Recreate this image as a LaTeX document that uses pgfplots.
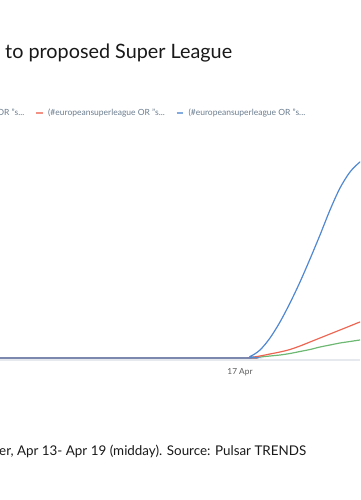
\documentclass[border=0pt]{standalone}
\usepackage{pgfplots}
\pgfplotsset{compat=1.18}
\usepackage{fontspec}
\setmainfont{Lato}
\definecolor{cblue}{HTML}{5088D2}
\definecolor{cred}{HTML}{EE6450}
\definecolor{cgreen}{HTML}{6DB872}
\definecolor{legtext}{HTML}{6A7C8E}
\definecolor{axgrey}{HTML}{E6EAEE}
\begin{document}
\begin{tikzpicture}[x=1pt,y=1pt]
\useasboundingbox (0,0) rectangle (360,500);
\clip (0,0) rectangle (360,500);
\node[anchor=base west, inner sep=0pt, font=\fontsize{19.8}{23}\selectfont, text=black!90] at (5,441) {to proposed Super League};
\node[anchor=base west, inner sep=0pt, font=\fontsize{13.4}{16}\selectfont, text=black!90] at (-1,44) {er, Apr 13- Apr 19 (midday). Source: Pulsar TRENDS};
\begin{axis}[
  at={(0pt,140pt)}, anchor=south west,
  scale only axis, width=360pt, height=230pt,
  xmin=-24, xmax=12, ymin=-2, ymax=228,
  axis x line*=bottom, axis y line=none,
  x axis line style={draw=axgrey, line width=1.6pt},
  xtick={0}, xticklabels={17 Apr},
  major tick length=0pt,
  xticklabel style={font=\fontsize{8.3}{9}\selectfont, text=black!65, yshift=-5pt},
  ytick=\empty,
  clip=true,
  legend columns=3,
  legend style={draw=none, fill=none, at={(-0.301,1.074)}, anchor=west,
    font=\fontsize{8.5}{10}\selectfont, text=legtext,
    /tikz/every even column/.append style={column sep=9pt}},
  legend image code/.code={\draw[#1, line width=1.5pt, opacity=0.7] (0pt,0pt) -- (6.5pt,0pt); \path (9.5pt,0pt);},
]
\addplot[cgreen, line width=1.2pt, smooth, tension=0.5] coordinates {
(-24,0) (0,0) (1,0.3) (2,1) (3,2) (4,3) (5,4.5) (6,6.5) (7,8.5) (8,11) (9,13) (10,15) (11,16.5) (12,18) (13,19)};
\addlegendentry{(\#europeansuperleague OR "s...}
\addplot[cred, line width=1.2pt, smooth, tension=0.5] coordinates {
(-24,0) (0,0) (1,0.5) (2,2) (3,4) (4,6) (5,8.5) (6,12) (7,16) (8,20) (9,24) (10,28) (11,32) (12,36) (13,39)};
\addlegendentry{(\#europeansuperleague OR "s...}
\addplot[cblue, line width=1.2pt, smooth, tension=0.5] coordinates {
(-24,0) (0,0) (1,1.5) (2,8) (3,20) (4,36) (5,55) (6,76) (7,99) (8,123) (9,148) (10,170) (11,186) (12,196) (13,202)};
\addlegendentry{(\#europeansuperleague OR "s...}
\end{axis}
\end{tikzpicture}
\end{document}
